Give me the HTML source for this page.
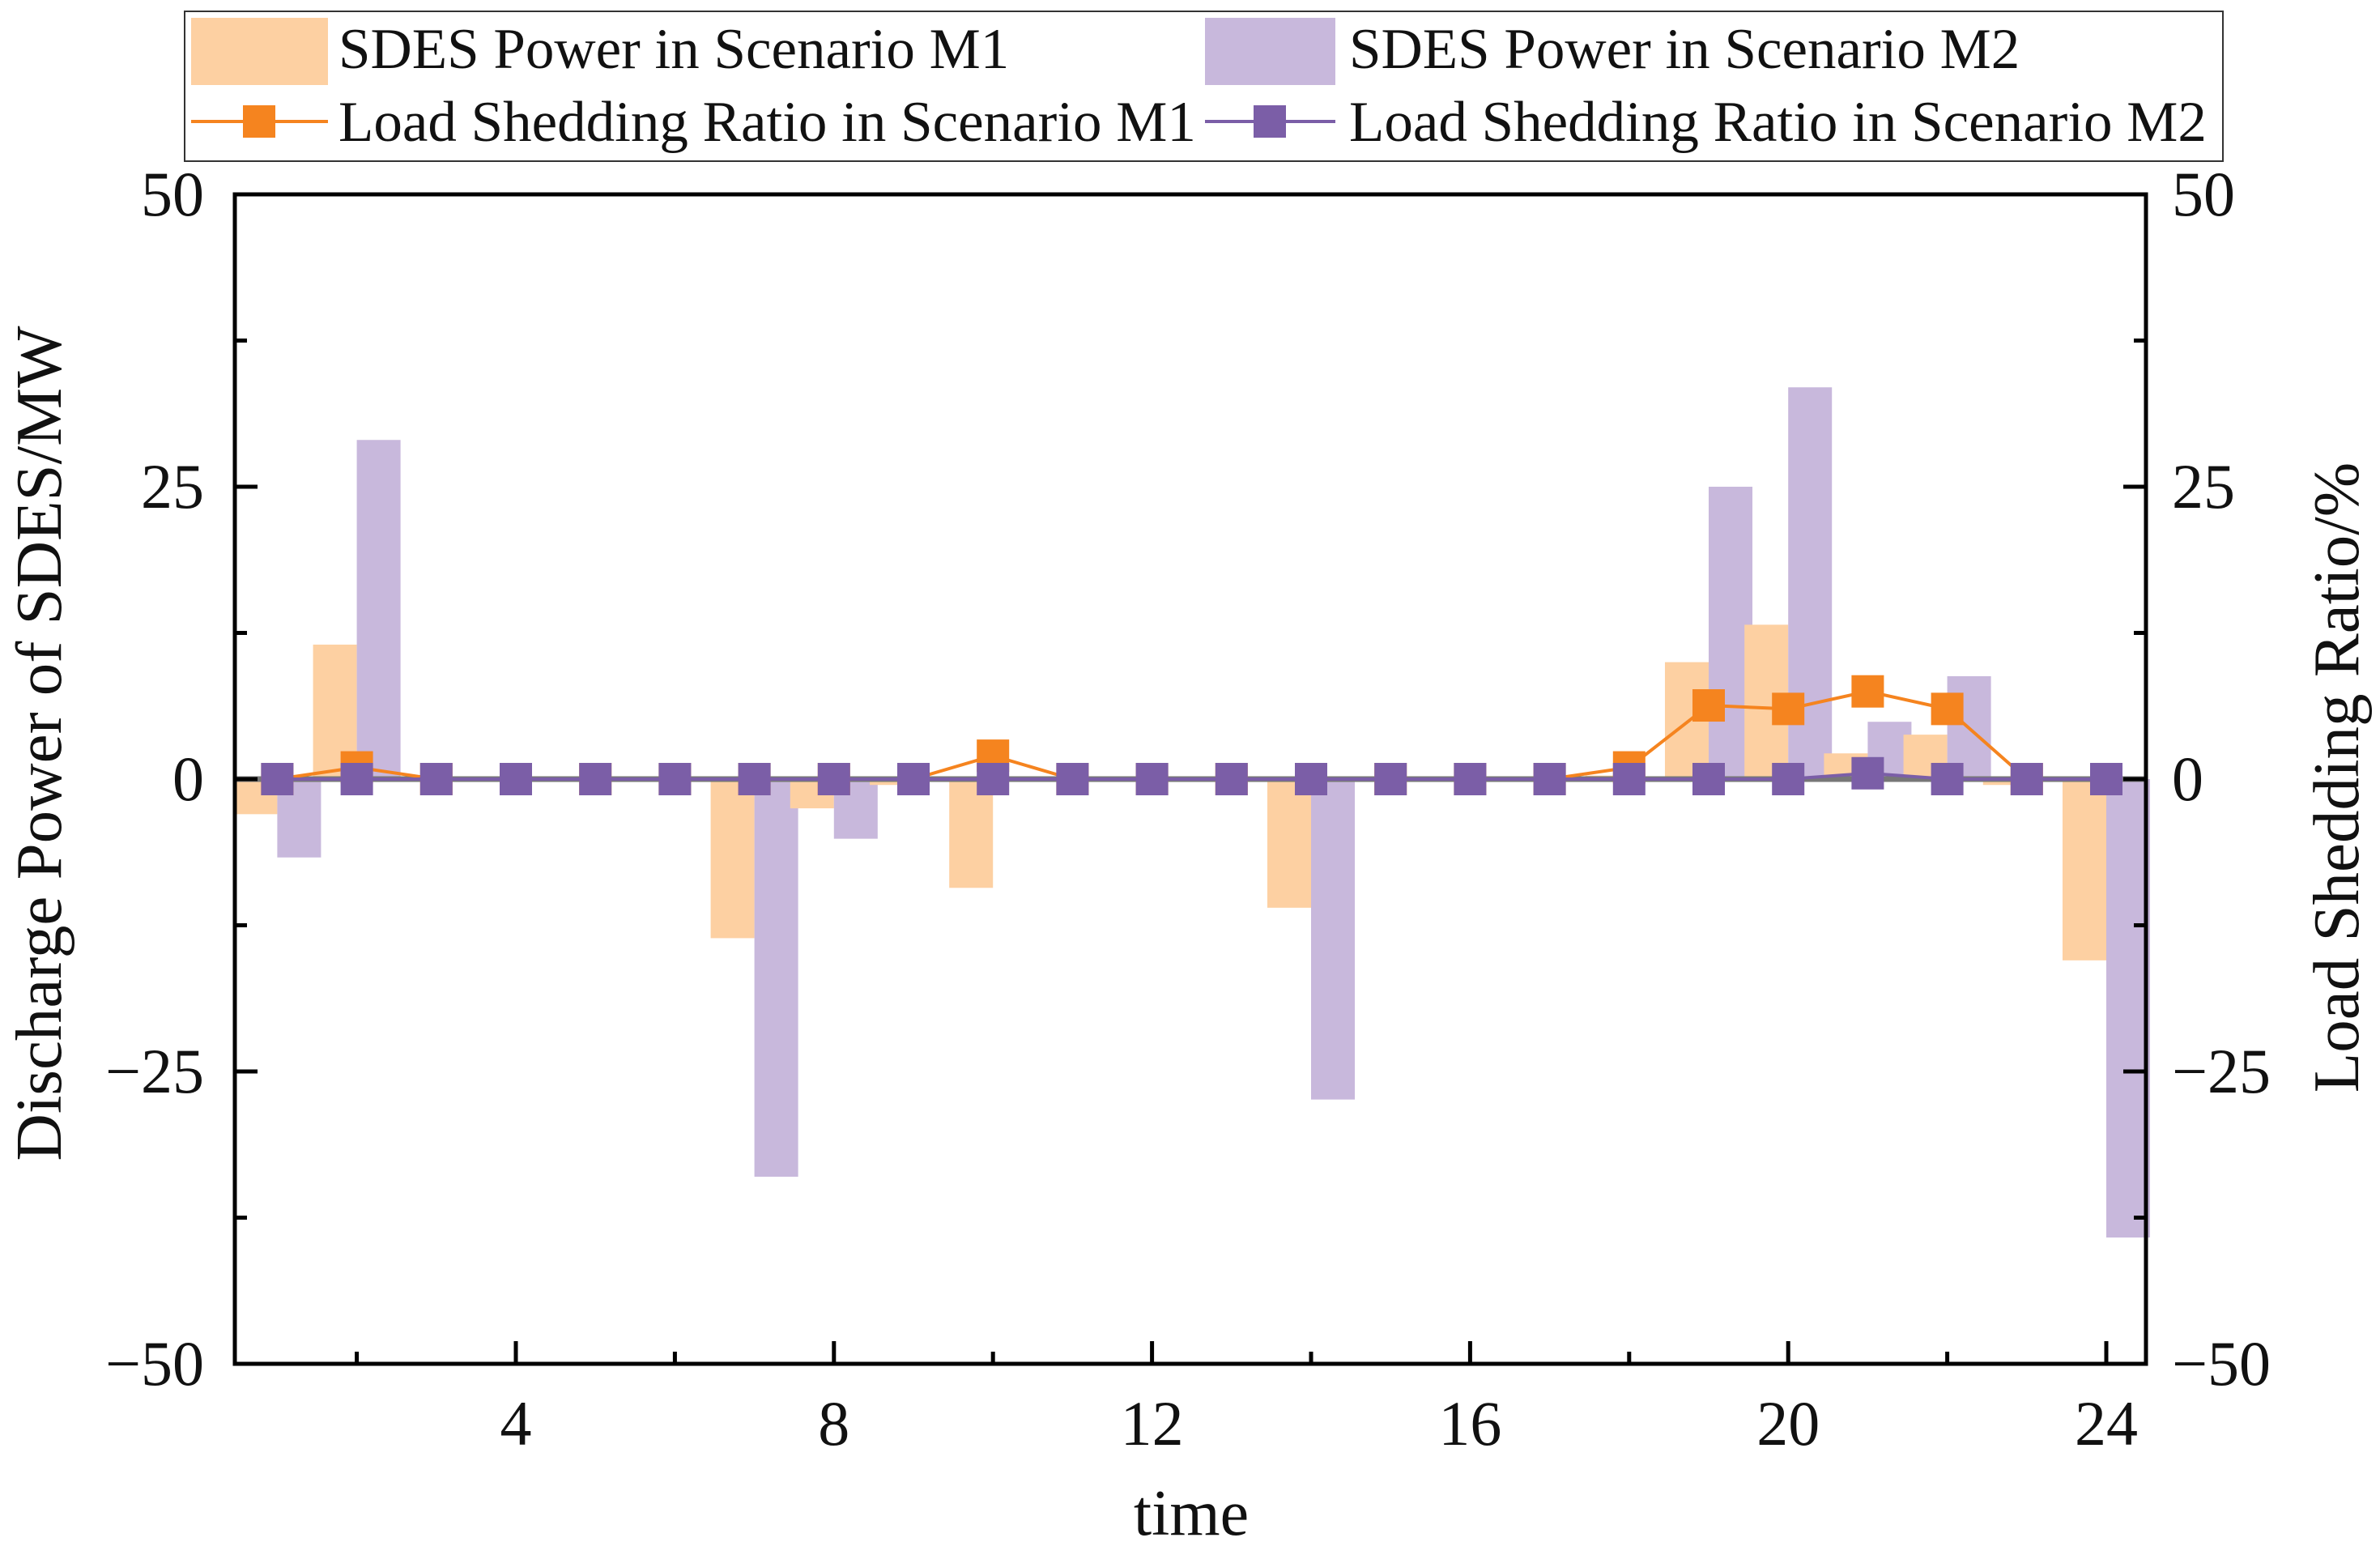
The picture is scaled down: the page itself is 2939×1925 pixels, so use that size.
<!DOCTYPE html>
<html><head><meta charset="utf-8"><style>
html,body{margin:0;padding:0;background:#fff}
svg text{font-family:"Liberation Serif",serif;fill:#111}
</style></head><body>
<svg id="chart" width="2939" height="1920" xmlns="http://www.w3.org/2000/svg">
<g id="bars"></g>
<line x1="290" x2="2650" y1="962" y2="962" stroke="#777" stroke-width="7"/>
<g id="lines"></g>
<g id="axes"></g>
<g>
<rect x="228" y="14" width="2517" height="185" fill="#fff" stroke="#333" stroke-width="2"/>
<rect x="236" y="22" width="169" height="83" fill="#fdd0a2"/>
<text x="418" y="84" font-size="71">SDES Power in Scenario M1</text>
<rect x="1488" y="22" width="161" height="83" fill="#c8b8dc"/>
<text x="1666" y="84" font-size="71">SDES Power in Scenario M2</text>
<line x1="236" x2="405" y1="150" y2="150" stroke="#f5841f" stroke-width="4"/>
<rect x="300" y="130" width="40" height="40" fill="#f5841f"/>
<text x="418" y="174" font-size="71">Load Shedding Ratio in Scenario M1</text>
<line x1="1488" x2="1649" y1="150" y2="150" stroke="#7b5ea7" stroke-width="4"/>
<rect x="1548" y="130" width="40" height="40" fill="#7b5ea7"/>
<text x="1666" y="174" font-size="71">Load Shedding Ratio in Scenario M2</text>
</g>
<text transform="translate(75,918) rotate(-90)" text-anchor="middle" font-size="81">Discharge Power of SDES/MW</text>
<text transform="translate(2912,960) rotate(-90)" text-anchor="middle" font-size="81">Load Shedding Ratio/%</text>
<text x="1471" y="1895" text-anchor="middle" font-size="80">time</text>
</svg>
<script>
const times=[1,2,3,4,5,6,7,8,9,10,11,12,13,14,15,16,17,18,19,20,21,22,23,24];
const sdesM1=[-3,11.5,0,0,0,0,-13.6,-2.5,-0.5,-9.3,0,0,0,-11,0,0,0,0.3,10,13.2,2.2,3.8,-0.5,-15.5];
const sdesM2=[-6.7,29,0,0,0,0,-34,-5.1,0,0,0,0,0,-27.4,0,0,0,0,25,33.5,4.9,8.8,0,-39.2];
const ratioM1=[0,1,0,0,0,0,0,0,0,2,0,0,0,0,0,0,0,1,6.3,6,7.5,6,0,0];
const ratioM2=[0,0,0,0,0,0,0,0,0,0,0,0,0,0,0,0,0,0,0,0,0.5,0,0,0];
const yTicks=[-50,-25,0,25,50];
const xTicks=[4,8,12,16,20,24];
const NS='http://www.w3.org/2000/svg';
const L=290,R=2650,T=240,B=1684;
const x=t=>637+(t-4)*98.2;
const y=v=>962-v*14.44;
const bw=0.55*98.2;
function mk(tag,attrs,parent){const e=document.createElementNS(NS,tag);for(const k in attrs)e.setAttribute(k,attrs[k]);parent.appendChild(e);return e;}
const gb=document.getElementById('bars'),gl=document.getElementById('lines'),ga=document.getElementById('axes');
times.forEach((t,i)=>{
  let v=sdesM1[i];
  let r=mk('rect',{x:x(t)-bw,y:Math.min(y(v),y(0)),width:bw,height:Math.abs(y(v)-y(0)),fill:'#fdd0a2'},gb);
  
  
  v=sdesM2[i];
  r=mk('rect',{x:x(t),y:Math.min(y(v),y(0)),width:bw,height:Math.abs(y(v)-y(0)),fill:'#c8b8dc'},gb);
  
  
});
[[ratioM1,'#f5841f','m1'],[ratioM2,'#7b5ea7','m2']].forEach(([d,c,n])=>{
  const p=mk('polyline',{points:times.map((t,i)=>x(t)+','+y(d[i])).join(' '),fill:'none',stroke:c,'stroke-width':4},gl);
  
  
  times.forEach((t,i)=>{
    const m=mk('rect',{x:x(t)-20,y:y(d[i])-20,width:40,height:40,fill:c},gl);
    
    
  });
});
const fr=mk('rect',{x:L,y:T,width:R-L,height:B-T,fill:'none',stroke:'#000','stroke-width':5},ga);


for(let v=-50;v<=50;v+=12.5){
  const major=yTicks.includes(v);const len=major?28:15;
  mk('line',{x1:L,x2:L+len,y1:y(v),y2:y(v),stroke:'#000','stroke-width':5},ga);
  mk('line',{x1:R,x2:R-len,y1:y(v),y2:y(v),stroke:'#000','stroke-width':5},ga);
}
yTicks.forEach(v=>{
  const lab=v<0?'\u2212'+(-v):''+v;
  let t=mk('text',{x:L-38,y:y(v)+26,'text-anchor':'end','font-size':78},ga);t.textContent=lab;
  
  
  t=mk('text',{x:R+32,y:y(v)+26,'text-anchor':'start','font-size':78},ga);t.textContent=lab;
  
  
});
for(let t=2;t<=24;t+=2){
  const major=xTicks.includes(t);
  mk('line',{x1:x(t),x2:x(t),y1:B,y2:B-(major?28:15),stroke:'#000','stroke-width':5},ga);
}
xTicks.forEach(v=>{
  const t=mk('text',{x:x(v),y:B+100,'text-anchor':'middle','font-size':78},ga);t.textContent=v;
  
  
});
</script>
</body></html>
